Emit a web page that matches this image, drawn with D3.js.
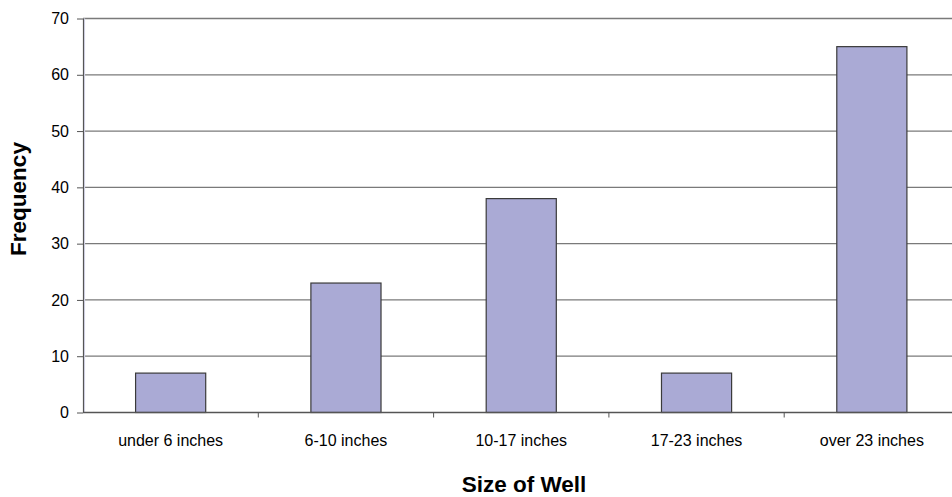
<!DOCTYPE html>
<html>
<head>
<meta charset="utf-8">
<script src="https://cdn.jsdelivr.net/npm/d3@7"></script>
<style>
    body { margin: 0; background: #fff; }
    svg { display: block; font-family: Arial, "Liberation Sans", sans-serif; }
</style>
</head>
<body>
<div class="chart"></div>
<script>
    // well sizes and how often each shows up
    const categories = ['under 6 inches', '6-10 inches', '10-17 inches', '17-23 inches', 'over 23 inches'];
    const frequencies = [7, 23, 38, 7, 65];
    const yTicks = [0, 10, 20, 30, 40, 50, 60, 70];

    const width = 952;
    const height = 497;
    const margin = {top: 18.5, right: -7.5, bottom: 84.5, left: 83};
    const font = 'Arial, "Liberation Sans", sans-serif';

    const svg = d3.select('.chart').append('svg')
        .attr('width', width)
        .attr('height', height);

    const x = d3.scaleBand()
        .domain(categories)
        .range([margin.left, width - margin.right])
        .paddingInner(0.6)
        .paddingOuter(0.3);

    const xEdges = d3.scaleLinear()
        .domain([0, categories.length])
        .range([margin.left, width - margin.right]);

    const y = d3.scaleLinear()
        .domain([0, 70])
        .range([height - margin.bottom, margin.top]);

    // gridlines
    svg.append('g')
        .selectAll('line')
        .data(yTicks.slice(1))
        .enter()
        .append('line')
        .attr('x1', margin.left)
        .attr('x2', width)
        .attr('y1', d => y(d))
        .attr('y2', d => y(d))
        .style('stroke', '#7a7a7a')
        .style('stroke-width', 1.3);

    // faint shading just inside the value axis
    svg.append('line')
        .attr('x1', margin.left + 1.5)
        .attr('x2', margin.left + 1.5)
        .attr('y1', margin.top)
        .attr('y2', y(0))
        .style('stroke', '#dcdcf0')
        .style('stroke-width', 1.2);

    // bars
    svg.append('g')
        .selectAll('rect')
        .data(frequencies)
        .enter()
        .append('rect')
        .attr('x', (d, i) => x(categories[i]))
        .attr('y', d => y(d))
        .attr('width', x.bandwidth())
        .attr('height', d => y(0) - y(d))
        .style('fill', '#aaaad5')
        .style('stroke', '#3a3a3a')
        .style('stroke-width', 1.2);

    // y axis
    const yAxis = svg.append('g')
        .attr('transform', `translate(${margin.left},0)`)
        .call(d3.axisLeft(y).tickValues(yTicks).tickSize(6).tickPadding(8).tickSizeOuter(0));
    yAxis.select('.domain').style('stroke', '#555').style('stroke-width', 1.2);
    yAxis.selectAll('.tick line').style('stroke', '#555');
    yAxis.selectAll('text')
        .style('font-family', font)
        .style('font-size', '16px')
        .style('fill', '#000');

    // x axis line and category boundary ticks
    const xAxis = svg.append('g')
        .attr('transform', `translate(0,${y(0)})`);
    xAxis.append('line')
        .attr('x1', margin.left)
        .attr('x2', width)
        .style('stroke', '#555')
        .style('stroke-width', 1.3);
    xAxis.selectAll('.edge')
        .data(d3.range(1, categories.length))
        .enter()
        .append('line')
        .attr('class', 'edge')
        .attr('x1', d => xEdges(d))
        .attr('x2', d => xEdges(d))
        .attr('y1', 0)
        .attr('y2', 5)
        .style('stroke', '#555');
    xAxis.selectAll('text')
        .data(categories)
        .enter()
        .append('text')
        .attr('x', d => x(d) + x.bandwidth() / 2)
        .attr('y', 33)
        .attr('text-anchor', 'middle')
        .style('font-size', '16px')
        .text(d => d);

    // axis titles
    svg.append('text')
        .attr('x', 524)
        .attr('y', 491.5)
        .attr('text-anchor', 'middle')
        .style('font-size', '22.5px')
        .style('font-weight', 'bold')
        .text('Size of Well');

    svg.append('text')
        .attr('transform', `translate(26,199) rotate(-90)`)
        .attr('text-anchor', 'middle')
        .style('font-size', '22.5px')
        .style('font-weight', 'bold')
        .text('Frequency');
</script>
</body>
</html>
